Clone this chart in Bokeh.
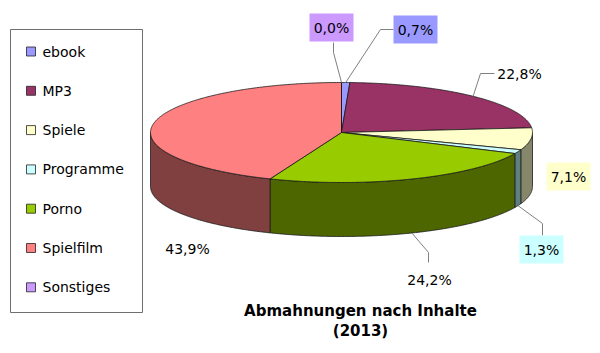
import numpy as np
from bokeh.plotting import figure
from bokeh.models import Range1d, ColumnDataSource
from bokeh.core.properties import value
from bokeh.embed import file_html
from bokeh.resources import INLINE

# ---------------- data ----------------
categories = ["ebook", "MP3", "Spiele", "Programme", "Porno", "Spielfilm", "Sonstiges"]
shares = [0.7, 22.8, 7.1, 1.3, 24.2, 43.9, 0.0]
share_labels = ["0,7%", "22,8%", "7,1%", "1,3%", "24,2%", "43,9%", "0,0%"]
title_lines = ["Abmahnungen nach Inhalte", "(2013)"]

# ---------------- styles ----------------
top_colors = ["#9999FF", "#993366", "#FFFFCC", "#CCFFFF", "#99CC00", "#FF8080", "#CC99FF"]
side_colors = ["#4D4D80", "#4D1A33", "#86866A", "#5F8080", "#4D6600", "#804040", "#664D80"]
label_boxed = [True, False, True, True, False, False, True]
FONT = "DejaVu Sans"

# ---------------- layout (screen px) ----------------
W, H = 600, 353
CX, CY, RX, RY, DEPTH = 341, 132, 191, 50, 54
# label centre positions
label_pos = [(415, 29), (519, 73), (568, 176), (541, 249), (429, 279), (187, 248), (331, 27)]
# leader line elbows and ends (None = no leader)
leaders = [((380, 29), (393, 29)), ((480, 73), (494, 73)), None,
           ((542, 223), (542, 235)), ((428, 252), (428, 262)), None,
           ((333, 52), (333, 42))]

p = figure(width=W, height=H, x_range=Range1d(0, W), y_range=Range1d(H, 0),
           output_backend="svg", toolbar_location=None, min_border=0,
           x_axis_location=None, y_axis_location=None)
p.grid.visible = False
p.outline_line_color = None
p.background_fill_color = "white"
p.border_fill_color = "white"


def arc(a0, a1, dy=0.0):
    n = max(2, int(abs(a1 - a0) * 2) + 2)
    t = np.radians(np.linspace(a0, a1, n))
    return CX + RX * np.sin(t), CY - RY * np.cos(t) + dy


total = float(sum(shares))
starts, ends = [], []
acc = 0.0
for s in shares:
    starts.append(acc / total * 360.0)
    acc += s
    ends.append(acc / total * 360.0)

# side walls (front half only: 90..270 deg clockwise from top)
sx, sy, sc = [], [], []
for a0, a1, col in zip(starts, ends, side_colors):
    b0, b1 = max(a0, 90.0), min(a1, 270.0)
    if b1 > b0:
        xt, yt = arc(b0, b1)
        xb, yb = arc(b1, b0, DEPTH)
        sx.append(list(xt) + list(xb))
        sy.append(list(yt) + list(yb))
        sc.append(col)
p.patches(xs=sx, ys=sy, fill_color=sc, line_color="#1a1a1a", line_width=0.8)

# top faces
tx, ty = [], []
for a0, a1 in zip(starts, ends):
    xa, ya = arc(a0, a1)
    tx.append([CX] + list(xa))
    ty.append([CY] + list(ya))
p.patches(xs=tx, ys=ty, fill_color=top_colors, line_color="#1a1a1a", line_width=0.8)

# leader lines from slice mid-angle
lx, ly = [], []
for a0, a1, ld in zip(starts, ends, leaders):
    if ld is None:
        continue
    m = (a0 + a1) / 2.0
    ax, ay = arc(m, m)
    dy = DEPTH if 90 < m < 270 else 0
    ax0, ay0 = ax[0], ay[0] + dy
    (ex, ey), (fx, fy) = ld
    lx.append([ax0, ex, fx])
    ly.append([ay0, ey, fy])
p.multi_line(xs=lx, ys=ly, line_color="#808080", line_width=1)

# label boxes
bx = [pos[0] for pos, b in zip(label_pos, label_boxed) if b]
by = [pos[1] for pos, b in zip(label_pos, label_boxed) if b]
bc = [c for c, b in zip(top_colors, label_boxed) if b]
p.rect(x=bx, y=by, width=44, height=28, fill_color=bc, line_color=None)

p.text(x=[q[0] for q in label_pos], y=[q[1] for q in label_pos], text=share_labels,
       text_font=value(FONT), text_font_size="14px", text_align="center",
       text_baseline="middle", text_color="black")

# legend
p.quad(left=[10], right=[142], top=[29], bottom=[312], fill_color=None,
       line_color="#6e6e6e", line_width=1)
leg_y = [51 + 39.3 * i for i in range(len(categories))]
p.scatter(x=[30.5] * len(categories), y=leg_y, marker="square", size=9,
          fill_color=top_colors, line_color="#222222", line_width=0.8)
p.text(x=[42] * len(categories), y=leg_y, text=categories,
       text_font=value(FONT), text_font_size="14px", text_align="left",
       text_baseline="middle", text_color="black")

# title
p.text(x=[360, 360], y=[310, 330], text=title_lines,
       text_font=value(FONT), text_font_size="15px", text_font_style="bold",
       text_align="center", text_baseline="middle", text_color="black")

open("out.html", "w").write(file_html(p, INLINE))
